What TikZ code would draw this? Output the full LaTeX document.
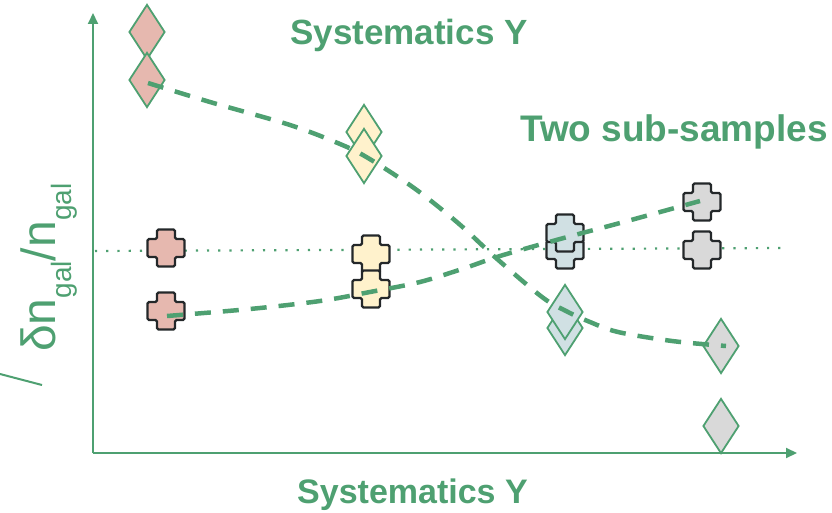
\documentclass[tikz,border=0pt]{standalone}
\usepackage{fontspec}
\setmainfont{Liberation Sans}
\usetikzlibrary{shapes.geometric,arrows.meta}
\definecolor{grn}{RGB}{78,160,113}
\definecolor{redf}{RGB}{230,184,175}
\definecolor{yelf}{RGB}{255,242,204}
\definecolor{bluf}{RGB}{208,224,227}
\definecolor{gryf}{RGB}{217,217,217}
\definecolor{dk}{RGB}{36,40,42}
\begin{document}
\begin{tikzpicture}[x=1pt,y=-1pt,
  dia/.style={diamond, draw=grn, line width=1.8pt, minimum width=36pt, minimum height=55pt, inner sep=0pt, fill=#1},
  axisline/.style={draw=grn, line width=2pt, -{Triangle[length=11pt,width=10pt]}},
  dashcurve/.style={draw=grn, line width=4.5pt, dash pattern=on 16pt off 12pt},
  dotline/.style={draw=grn, line width=2.2pt, dash pattern=on 2.2pt off 9pt},
  titletext/.style={text=grn, font=\bfseries\fontsize{35}{35}\selectfont, inner sep=0pt},
  pics/crossshape/.style={code={
    \draw[draw=dk, line width=2.3pt, rounded corners=1.5pt, pic actions]
      (-9,-18.5) -- (9,-18.5) -- (9,-9) -- (18.5,-9) -- (18.5,9) -- (9,9) -- (9,18.5)
      -- (-9,18.5) -- (-9,9) -- (-18.5,9) -- (-18.5,-9) -- (-9,-9) -- cycle;}}
]
\useasboundingbox (0,0) rectangle (832,513);

% axes
\coordinate (origin) at (93,453);
\coordinate (ytip) at (93,13);
\coordinate (xtip) at (797,453);
\draw[axisline] (origin) -- (ytip);
\draw[axisline] (origin) -- (xtip);

% dotted reference line
\coordinate (dl) at (95,251);
\coordinate (dr) at (787,248);
\draw[dotline] (dl) -- (dr);

% y label
\node[rotate=90, anchor=base west, text=grn, inner sep=0pt, font=\fontsize{48}{48}\selectfont] (ylab) at (55,352)
  {δn{\fontsize{28}{28}\selectfont\raisebox{-16pt}{gal}}/n{\fontsize{28}{28}\selectfont\raisebox{-16pt}{gal}}};
\draw[grn, line width=2pt] (0,374) -- (42,385);

% diamonds
\node[dia=redf] (r1) at (147,32) {};
\node[dia=redf] (r2) at (147,80) {};
\node[dia=yelf] (y1) at (364,132) {};
\node[dia=yelf] (y2) at (364,156) {};
\node[dia=bluf] (b2) at (565,328) {};
\node[dia=bluf] (b1) at (565,312) {};
\node[dia=gryf] (g1) at (721,346) {};
\node[dia=gryf] (g2) at (721,426) {};

% crosses
\pic[fill=redf] (cr1) at (166,248) {crossshape};
\pic[fill=redf] (cr2) at (166,311) {crossshape};
\pic[fill=yelf] (cy1) at (371,254) {crossshape};
\pic[fill=yelf] (cy2) at (371,289) {crossshape};
\pic[fill=bluf] (cb2) at (565,250) {crossshape};
\pic[fill=bluf] (cb1) at (565,233) {crossshape};
\pic[fill=gryf] (cg1) at (702,202) {crossshape};
\pic[fill=gryf] (cg2) at (702,250) {crossshape};

% dashed trend curves
\draw[dashcurve] plot[smooth, tension=0.55] coordinates {(148,83) (210,102) (290,125) (340,144) (368,158) (414,188) (458,223) (496,258) (542,297) (566,311) (590,322) (618,332) (672,341) (726,346)};
\draw[dashcurve] plot[smooth, tension=0.55] coordinates {(167,316) (250,309) (320,301) (370,292) (420,282) (465,268) (500,256) (560,239) (620,223) (700,201)};

% titles
\node[titletext, anchor=base west] (ttop) at (290,45) {Systematics Y};
\node[titletext, anchor=base west, font=\bfseries\fontsize{37}{37}\selectfont] (tsub) at (520,142) {Two sub-samples};
\node[titletext, anchor=base west, font=\bfseries\fontsize{34}{34}\selectfont] (tbot) at (297,503) {Systematics Y};
\end{tikzpicture}
\end{document}
